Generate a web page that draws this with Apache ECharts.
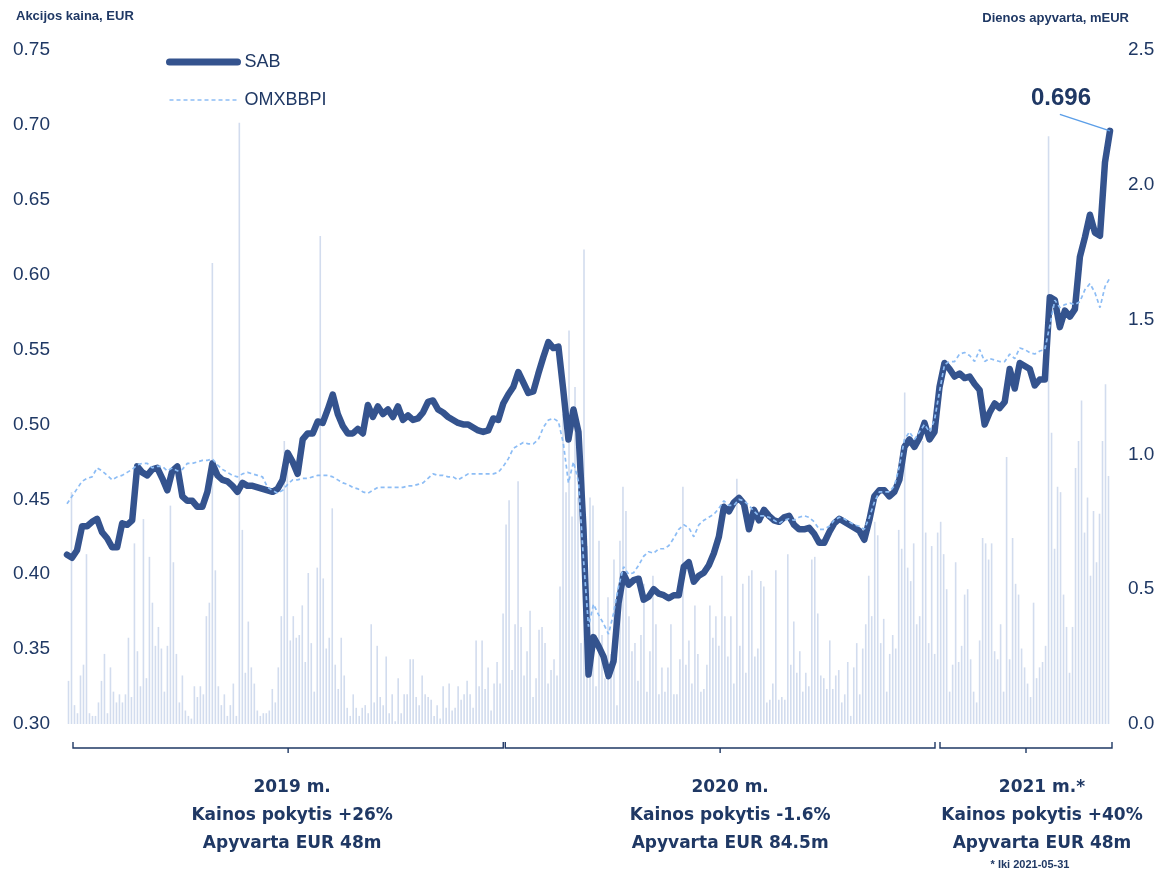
<!DOCTYPE html>
<html>
<head>
<meta charset="utf-8">
<title>SAB</title>
<script src="https://cdn.jsdelivr.net/npm/echarts@6/dist/echarts.min.js"></script>
<style>
  html, body { margin: 0; padding: 0; background: #ffffff; }
  #main { width: 1160px; height: 872px; }
</style>
</head>
<body>
<div id="main"></div>
<script>
// SAB kaina, EUR (2019, 2020, 2021 iki 05-31)
var sab2019 = [0.413,0.411,0.416,0.432,0.432,0.435,0.437,0.428,0.424,0.418,
  0.418,0.434,0.433,0.436,0.472,0.468,0.466,0.470,0.471,0.464,
  0.456,0.469,0.472,0.452,0.449,0.449,0.445,0.445,0.455,0.474,
  0.466,0.463,0.462,0.459,0.455,0.461,0.459,0.459,0.458,0.457,
  0.456,0.455,0.457,0.463,0.481,0.475,0.467,0.490,0.494,0.494,
  0.502,0.501,0.510,0.520,0.507,0.499,0.494,0.494,0.497,0.494,
  0.513,0.505,0.512,0.507,0.510,0.505,0.512,0.503,0.506,0.503,
  0.504,0.508,0.515,0.516,0.510,0.508,0.505,0.503,0.501,0.500,
  0.500,0.498,0.496,0.495,0.496,0.504,0.503,0.514];
var sab2020 = [0.520,0.525,0.535,0.528,0.521,0.522,0.534,0.545,0.555,0.551,
  0.552,0.522,0.490,0.510,0.495,0.430,0.333,0.358,0.352,0.345,
  0.332,0.342,0.381,0.400,0.393,0.396,0.397,0.383,0.385,0.390,
  0.387,0.386,0.384,0.386,0.386,0.405,0.408,0.395,0.399,0.401,
  0.406,0.414,0.425,0.445,0.442,0.448,0.451,0.447,0.430,0.443,
  0.436,0.443,0.439,0.436,0.435,0.438,0.439,0.433,0.430,0.430,
  0.431,0.427,0.421,0.421,0.428,0.434,0.437,0.435,0.433,0.431,
  0.429,0.423,0.436,0.452,0.456,0.456,0.452,0.455,0.463,0.485,
  0.490,0.485,0.491,0.501,0.490,0.495];
var sab2021 = [0.525,0.541,0.537,0.532,0.534,0.531,0.532,0.527,0.523,0.500,
  0.508,0.514,0.511,0.515,0.537,0.524,0.541,0.539,0.537,0.526,
  0.530,0.530,0.585,0.583,0.565,0.576,0.572,0.577,0.612,0.625,
  0.640,0.628,0.626,0.675,0.696];

// OMXBBPI, perskaiciuotas i SAB skale
var omx2019 = [0.447,0.452,0.457,0.462,0.464,0.465,0.471,0.469,0.466,0.463,
  0.465,0.466,0.468,0.470,0.473,0.474,0.474,0.471,0.472,0.472,
  0.469,0.471,0.469,0.470,0.474,0.474,0.475,0.476,0.476,0.477,
  0.473,0.470,0.468,0.466,0.465,0.467,0.468,0.467,0.466,0.465,
  0.458,0.456,0.454,0.456,0.460,0.463,0.463,0.464,0.464,0.465,
  0.466,0.466,0.466,0.465,0.463,0.461,0.460,0.458,0.457,0.455,
  0.454,0.456,0.458,0.458,0.458,0.458,0.458,0.458,0.459,0.459,
  0.460,0.461,0.464,0.467,0.466,0.466,0.465,0.465,0.463,0.465,
  0.467,0.467,0.467,0.467,0.467,0.467,0.468,0.472];
var omx2020 = [0.477,0.484,0.486,0.488,0.487,0.487,0.490,0.498,0.503,0.504,
  0.502,0.487,0.461,0.475,0.462,0.410,0.365,0.380,0.373,0.367,
  0.360,0.374,0.392,0.405,0.400,0.401,0.406,0.412,0.415,0.414,
  0.417,0.417,0.419,0.424,0.430,0.433,0.431,0.425,0.433,0.436,
  0.438,0.440,0.444,0.449,0.446,0.446,0.450,0.449,0.446,0.442,
  0.439,0.439,0.438,0.436,0.434,0.436,0.437,0.436,0.438,0.439,
  0.438,0.435,0.430,0.430,0.432,0.436,0.438,0.437,0.435,0.433,
  0.432,0.430,0.438,0.448,0.455,0.455,0.455,0.459,0.472,0.490,
  0.495,0.490,0.495,0.500,0.495,0.503];
var omx2021 = [0.522,0.540,0.542,0.542,0.547,0.548,0.546,0.542,0.550,0.542,
  0.544,0.543,0.542,0.542,0.547,0.544,0.551,0.550,0.548,0.547,
  0.549,0.550,0.566,0.583,0.578,0.580,0.581,0.580,0.582,0.590,
  0.594,0.588,0.578,0.592,0.598];

// Dienos apyvarta, mEUR
var turnover2019 = [0.16,0.86,0.07,0.04,0.18,0.22,0.63,0.04,0.03,0.03,
  0.08,0.16,0.26,0.04,0.21,0.12,0.08,0.11,0.08,0.11,
  0.32,0.10,0.67,0.27,0.14,0.76,0.17,0.62,0.45,0.29,
  0.36,0.28,0.12,0.29,0.81,0.60,0.26,0.08,0.18,0.05,
  0.03,0.02,0.14,0.10,0.14,0.11,0.40,0.45,1.71,0.57,
  0.14,0.07,0.11,0.03,0.07,0.15,0.03,2.23,0.72,0.19,
  0.38,0.21,0.15,0.05,0.03,0.04,0.04,0.05,0.13,0.08,
  0.21,0.40,1.05,1.00,0.31,0.40,0.32,0.33,0.44,0.23,
  0.56,0.30,0.12,0.58,1.81,0.54,0.28,0.32,0.80,0.22,
  0.13,0.32,0.18,0.06,0.03,0.11,0.06,0.03,0.06,0.07,
  0.04,0.37,0.08,0.29,0.10,0.07,0.25,0.04,0.11,0.01,
  0.17,0.04,0.11,0.11,0.24,0.24,0.10,0.07,0.18,0.11,
  0.10,0.09,0.03,0.07,0.02,0.14,0.06,0.15,0.05,0.06,
  0.14,0.09,0.11,0.16,0.11,0.06,0.31,0.14,0.31,0.13,
  0.21,0.05,0.15,0.23,0.15,0.41];
var turnover2020 = [0.74,0.83,0.20,0.37,0.90,0.36,0.18,0.27,0.42,0.10,
  0.17,0.35,0.36,0.30,0.15,0.20,0.24,0.18,0.51,1.15,
  0.86,1.46,0.77,1.25,0.84,0.30,1.76,0.66,0.84,0.81,
  0.14,0.68,0.33,0.17,0.47,0.26,0.61,0.07,0.68,0.88,
  0.79,0.40,0.27,0.30,0.16,0.33,0.52,0.12,0.27,0.55,
  0.37,0.11,0.21,0.12,0.21,0.37,0.11,0.11,0.24,0.88,
  0.22,0.31,0.15,0.44,0.26,0.12,0.13,0.22,0.44,0.32,
  0.40,0.29,0.55,0.40,0.25,0.40,0.15,0.91,0.29,0.52,
  0.19,0.55,0.57,0.25,0.28,0.53,0.51,0.08,0.09,0.15,
  0.57,0.09,0.10,0.09,0.63,0.22,0.38,0.19,0.27,0.12,
  0.19,0.14,0.61,0.62,0.41,0.18,0.17,0.13,0.31,0.13,
  0.18,0.20,0.08,0.11,0.23,0.03,0.21,0.30,0.11,0.28,
  0.37,0.55,0.40,0.75,0.70,0.30,0.39,0.12,0.26,0.33,
  0.28,0.72,0.65,1.23,0.58,0.53,0.67,0.37,0.40,1.05,0.71,0.30,0.66];
var turnover2021 = [0.26,0.71,0.75,0.63,0.50,0.12,0.22,0.60,0.23,0.29,
  0.48,0.50,0.24,0.12,0.08,0.31,0.69,0.67,0.61,0.67,
  0.27,0.24,0.37,0.12,0.99,0.24,0.69,0.52,0.48,0.28,
  0.21,0.15,0.10,0.45,0.17,0.21,0.23,0.29,2.18,1.08,
  0.65,0.88,0.86,0.48,0.36,0.19,0.36,0.95,1.05,1.20,
  0.71,0.84,0.55,0.79,0.60,0.78,1.05,1.26,0.92];

var priceTicks = [0.30, 0.75, 0.05];
var volumeTicks = [0, 2.5, 0.5];

// metu blokai apacioje
var yearNames = ['2019 m.', '2020 m.', '2021 m.*'];
var yearChange = ['Kainos pokytis +26%', 'Kainos pokytis -1.6%', 'Kainos pokytis +40%'];
var yearTurnover = ['Apyvarta EUR 48m', 'Apyvarta EUR 84.5m', 'Apyvarta EUR 48m'];
var yearBounds = [0, 87.3, 173.3, 208]; // kainos tasku indeksai
var footNote = '* Iki 2021-05-31';

var sab = sab2019.concat(sab2020, sab2021);
var omx = omx2019.concat(omx2020, omx2021);
var turnover = turnover2019.concat(turnover2020, turnover2021);
var priceDays = sab.map(function (v, i) { return 'p' + i; });
var volumeDays = turnover.map(function (v, i) { return 'v' + i; });
var last = sab.length - 1;

var navy = '#1f3864';
var sabColor = '#34538e';
var omxColor = '#8dbdf5';
var chart = echarts.init(document.getElementById('main'), null, { renderer: 'canvas' });

var option = {
  backgroundColor: '#ffffff',
  animation: false,
  textStyle: { fontFamily: 'Liberation Sans, Arial, sans-serif' },
  grid: { left: 67, right: 50, top: 50, bottom: 148 },
  legend: {
    orient: 'vertical',
    left: 161,
    top: 48,
    itemWidth: 68,
    itemHeight: 16,
    itemGap: 20,
    itemStyle: { opacity: 0 },
    textStyle: { color: navy, fontSize: 18, padding: [0, 0, 0, 2] },
    data: [
      { name: 'SAB', lineStyle: { width: 7, cap: 'round' } },
      { name: 'OMXBBPI', lineStyle: { width: 1.7 } }
    ]
  },
  xAxis: [{
    type: 'category',
    data: priceDays,
    boundaryGap: false,
    show: false
  }, {
    type: 'category',
    data: volumeDays,
    boundaryGap: true,
    show: false
  }],
  yAxis: [{
    type: 'value',
    min: priceTicks[0],
    max: priceTicks[1],
    interval: priceTicks[2],
    axisLine: { show: false },
    axisTick: { show: false },
    splitLine: { show: false },
    axisLabel: {
      color: navy, fontSize: 19, margin: 17,
      formatter: function (v) { return v.toFixed(2); }
    }
  }, {
    type: 'value',
    min: volumeTicks[0],
    max: volumeTicks[1],
    interval: volumeTicks[2],
    axisLine: { show: false },
    axisTick: { show: false },
    splitLine: { show: false },
    axisLabel: {
      color: navy, fontSize: 19, margin: 18,
      formatter: function (v) { return v.toFixed(1); }
    }
  }],
  series: [{
    name: 'Apyvarta',
    type: 'bar',
    xAxisIndex: 1,
    yAxisIndex: 1,
    data: turnover,
    barWidth: 1.6,
    itemStyle: { color: '#d2dcee' },
    silent: true
  }, {
    name: 'SAB',
    type: 'line',
    data: sab,
    symbol: 'none',
    z: 3,
    itemStyle: { color: sabColor },
    lineStyle: { color: sabColor, width: 6.5, cap: 'round', join: 'round' },
    markPoint: {
      symbol: 'circle',
      symbolSize: 1,
      itemStyle: { color: 'rgba(0,0,0,0)' },
      label: {
        show: true,
        offset: [-49, -33],
        color: navy,
        fontSize: 24,
        fontWeight: 'bold',
        formatter: function (p) { return p.value.toFixed(3); }
      },
      data: [{ coord: [last, sab[last]], value: sab[last] }]
    },
    markLine: {
      silent: true,
      symbol: ['none', 'none'],
      label: { show: false },
      lineStyle: { color: '#5b9ee8', width: 1.5, type: 'solid' },
      data: [[{ coord: [last - 10, 0.707] }, { coord: [last, sab[last]] }]]
    }
  }, {
    name: 'OMXBBPI',
    type: 'line',
    data: omx,
    symbol: 'none',
    z: 4,
    itemStyle: { color: omxColor },
    lineStyle: { color: omxColor, width: 1.7, type: [4, 3] }
  }],
  graphic: [{
    type: 'text', left: 16, top: 10,
    style: { text: 'Akcijos kaina, EUR', fill: navy, font: 'bold 13px Liberation Sans, Arial, sans-serif' }
  }, {
    type: 'text', right: 31, top: 12,
    style: { text: 'Dienos apyvarta, mEUR', fill: navy, font: 'bold 13px Liberation Sans, Arial, sans-serif' }
  }]
};

chart.setOption(option);

function drawYears() {
  var x0 = chart.convertToPixel({ xAxisIndex: 0 }, 0);
  var x1 = chart.convertToPixel({ xAxisIndex: 0 }, last);
  var px = function (i) { return x0 + (x1 - x0) * i / last; };
  var pad = [[6, -1.5], [0.5, -1], [4, 2]];
  var shift = [4, 10, 16];
  var els = [];
  var yb = 748;
  for (var k = 0; k < yearNames.length; k++) {
    var a = px(yearBounds[k]) + pad[k][0];
    var b = px(yearBounds[k + 1]) + pad[k][1];
    var m = (a + b) / 2;
    els.push({
      type: 'polyline',
      shape: { points: [[a, yb - 6], [a, yb], [b, yb], [b, yb - 6]] },
      style: { stroke: navy, lineWidth: 1.4, fill: null }
    });
    els.push({
      type: 'line',
      shape: { x1: m, y1: yb, x2: m, y2: yb + 5 },
      style: { stroke: navy, lineWidth: 1.4 }
    });
    els.push({
      type: 'text',
      x: m + shift[k], y: 774,
      style: {
        text: yearNames[k] + '\n' + yearChange[k] + '\n' + yearTurnover[k],
        fill: navy,
        font: 'bold 17px DejaVu Sans, Verdana, sans-serif',
        lineHeight: 28,
        align: 'center'
      }
    });
  }
  els.push({
    type: 'text',
    x: 1030, y: 859,
    style: { text: footNote, fill: navy, font: 'bold 11px Liberation Sans, Arial, sans-serif', align: 'center' }
  });
  chart.setOption({ graphic: option.graphic.concat(els) });
}
drawYears();
</script>
</body>
</html>
